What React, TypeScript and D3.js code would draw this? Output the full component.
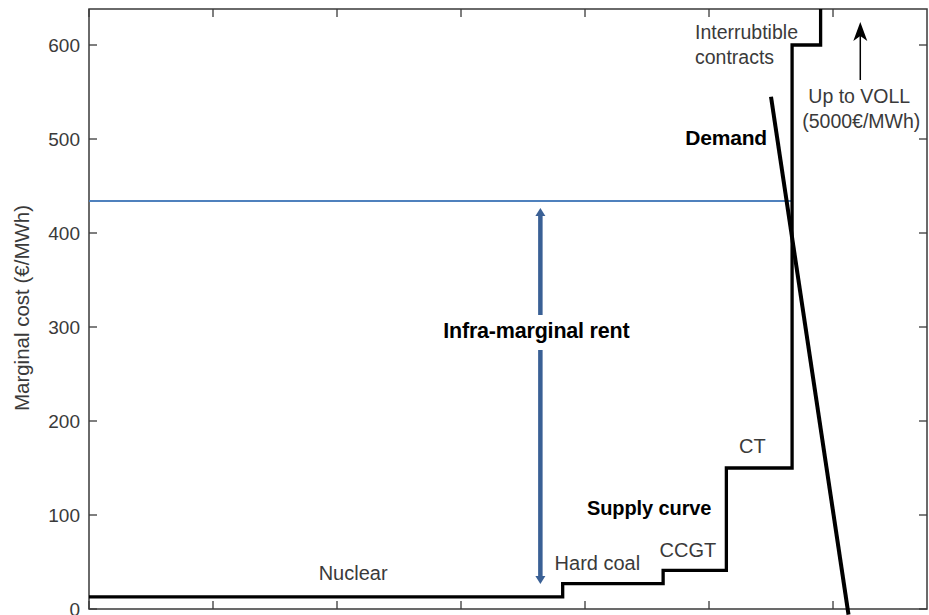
import React from "react";
import * as d3 from "d3";

// ---- data ----
const supplyStepsX = [0, 38.2, 46.3, 51.4, 56.7, 59.0]; // GW where each block starts
const supplyLevels = [13, 27, 41, 150, 600, 5000]; // €/MWh
const supplyEndX = 67.6;
const demandPts: [number, number][] = [
  [55.0, 545],
  [61.25, -6],
];
const clearingPrice = 434;
const clearingEndX = 56.7;
const rentArrowX = 36.4;
const rentArrowFrom = 26.6;
const rentArrowTo = 426.6;
const yTicks = [0, 100, 200, 300, 400, 500, 600];
const xTicks = [0, 10, 20, 30, 40, 50, 60];
const plantLabels = [
  { text: "Nuclear", x: 21.3, y: 31 },
  { text: "Hard coal", x: 41.0, y: 41 },
  { text: "CCGT", x: 48.3, y: 55 },
  { text: "CT", x: 53.5, y: 166 },
];

const W = 929;
const H = 615;
const M = { left: 89, right: 927, top: 9, bottom: 609 };

export default function App() {
  const x = d3.scaleLinear().domain([0, 67.58]).range([M.left, M.right]);
  const y = d3.scaleLinear().domain([0, 638.3]).range([M.bottom, M.top]);

  const supplyData: [number, number][] = [];
  supplyStepsX.forEach((sx, i) => supplyData.push([sx, supplyLevels[i]]));
  supplyData.push([supplyEndX, supplyLevels[supplyLevels.length - 1]]);
  const supplyLine = d3
    .line<[number, number]>()
    .x((d) => x(d[0]))
    .y((d) => y(d[1]))
    .curve(d3.curveStepAfter);
  const plainLine = d3
    .line<[number, number]>()
    .x((d) => x(d[0]))
    .y((d) => y(d[1]));

  const font = "'Liberation Sans', Arial, sans-serif";
  const grey = "#3a3a3a";
  const tickLen = 8;
  const ax = x(rentArrowX);
  const aTop = y(rentArrowTo);
  const aBot = y(rentArrowFrom);
  const vx = x(62.2);

  return (
    <svg
      width={W}
      height={H}
      style={{ position: "absolute", left: 0, top: 0, background: "#fff" }}
      fontFamily={font}
    >
      <defs>
        <clipPath id="plot">
          <rect x={M.left} y={M.top} width={M.right - M.left} height={M.bottom - M.top} />
        </clipPath>
      </defs>
      <rect x={0} y={0} width={W} height={H} fill="#fff" />

      {/* ticks */}
      {yTicks.map((t) => (
        <g key={"y" + t}>
          <line x1={M.left} x2={M.left + tickLen} y1={y(t)} y2={y(t)} stroke={grey} strokeWidth={1.3} />
          <line x1={M.right} x2={M.right - tickLen} y1={y(t)} y2={y(t)} stroke={grey} strokeWidth={1.3} />
          <text x={80} y={y(t)} dy="0.36em" textAnchor="end" fontSize={19} fill={grey}>
            {t}
          </text>
        </g>
      ))}
      {xTicks.map((t) => (
        <g key={"x" + t}>
          <line x1={x(t)} x2={x(t)} y1={M.bottom} y2={M.bottom - tickLen} stroke={grey} strokeWidth={1.3} />
          <line x1={x(t)} x2={x(t)} y1={M.top} y2={M.top + tickLen} stroke={grey} strokeWidth={1.3} />
        </g>
      ))}

      {/* frame */}
      <rect
        x={M.left}
        y={M.top}
        width={M.right - M.left}
        height={M.bottom - M.top}
        fill="none"
        stroke={grey}
        strokeWidth={1.5}
      />

      {/* y axis title */}
      <text
        transform={`translate(29,308) rotate(-90)`}
        textAnchor="middle"
        fontSize={20.5}
        fill={grey}
      >
        Marginal cost (€/MWh)
      </text>

      {/* clearing price line */}
      <line
        x1={x(0)}
        x2={x(clearingEndX)}
        y1={y(clearingPrice)}
        y2={y(clearingPrice)}
        stroke="#4f81bd"
        strokeWidth={2}
      />

      {/* rent double arrow */}
      <line x1={ax} x2={ax} y1={aTop + 7} y2={aBot - 7} stroke="#3a6095" strokeWidth={4.5} />
      <path d={`M${ax},${aTop} L${ax + 5},${aTop + 8} L${ax - 5},${aTop + 8} Z`} fill="#3a6095" />
      <path d={`M${ax},${aBot} L${ax + 5},${aBot - 8} L${ax - 5},${aBot - 8} Z`} fill="#3a6095" />
      <rect x={ax - 98} y={315} width={196} height={35} fill="#fff" />
      <text x={ax - 4} y={338} textAnchor="middle" fontSize={21.5} fontWeight="bold" letterSpacing={-0.2} fill="#000">
        Infra-marginal rent
      </text>

      {/* supply curve */}
      <path
        d={supplyLine(supplyData) || ""}
        fill="none"
        stroke="#000"
        strokeWidth={3.3}
        clipPath="url(#plot)"
      />

      {/* demand */}
      <path d={plainLine(demandPts) || ""} fill="none" stroke="#000" strokeWidth={4} />

      {/* plant labels */}
      {plantLabels.map((l) => (
        <text key={l.text} x={x(l.x)} y={y(l.y)} textAnchor="middle" fontSize={20} fill={grey}>
          {l.text}
        </text>
      ))}
      <text x={695} y={39} fontSize={19.5} fill={grey}>
        Interrubtible
      </text>
      <text x={695} y={64} fontSize={19.5} fill={grey}>
        contracts
      </text>

      <text x={587} y={515} fontSize={20} fontWeight="bold" letterSpacing={-0.1} fill="#000">
        Supply curve
      </text>
      <text x={767} y={145} textAnchor="end" fontSize={21} fontWeight="bold" letterSpacing={-0.2} fill="#000">
        Demand
      </text>

      {/* VOLL arrow */}
      <line x1={vx} x2={vx} y1={80} y2={36} stroke="#000" strokeWidth={1.5} />
      <path d={`M${vx},${22} L${vx + 7},${41} L${vx},${36} L${vx - 7},${41} Z`} fill="#000" />
      <text x={vx - 1} y={103} textAnchor="middle" fontSize={19.5} fill={grey}>
        Up to VOLL
      </text>
      <text x={vx + 1} y={128} textAnchor="middle" fontSize={19.5} fill={grey}>
        (5000€/MWh)
      </text>
    </svg>
  );
}
